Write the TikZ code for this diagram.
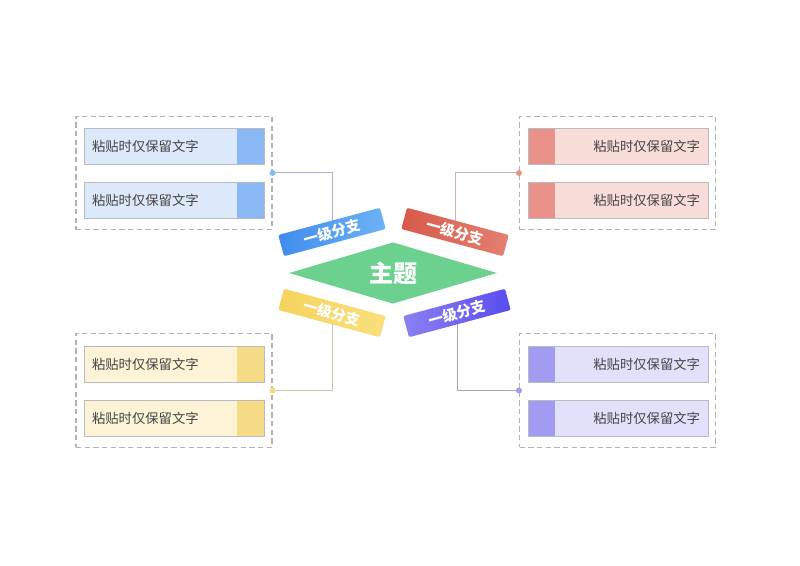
\documentclass[tikz,border=0pt]{standalone}
\usepackage{fontspec}
\setmainfont{Noto Sans CJK SC}
\usetikzlibrary{positioning, calc, backgrounds, shapes.geometric}
\definecolor{topicgreen}{HTML}{6CD08E}
\definecolor{blueL}{HTML}{3F8CEE}
\definecolor{blueR}{HTML}{6DB2F6}
\definecolor{redL}{HTML}{E3806F}
\definecolor{redR}{HTML}{D9594B}
\definecolor{yelL}{HTML}{F6D35E}
\definecolor{yelR}{HTML}{F9DF7C}
\definecolor{purL}{HTML}{8C80F2}
\definecolor{purR}{HTML}{5A4CF0}
\definecolor{bluefill}{HTML}{DCE9FB}
\definecolor{blueacc}{HTML}{8AB8F5}
\definecolor{redfill}{HTML}{F9DDD8}
\definecolor{redacc}{HTML}{E9928A}
\definecolor{yelfill}{HTML}{FDF3D6}
\definecolor{yelacc}{HTML}{F6DB86}
\definecolor{purfill}{HTML}{E3E0FB}
\definecolor{puracc}{HTML}{A39AF1}
\definecolor{itemline}{HTML}{B8BCC2}
\definecolor{itemtext}{HTML}{444444}
\definecolor{lineblue}{HTML}{A9B5C6}
\definecolor{linered}{HTML}{D9ABAA}
\definecolor{lineyel}{HTML}{C9C5AE}
\definecolor{linepur}{HTML}{A7A3CF}
\tikzset{
  topic/.style={diamond, fill=topicgreen, inner sep=0pt, aspect=3.4,
                minimum width=156pt, minimum height=46pt,
                text=white, font=\fontsize{18}{20}\selectfont\bfseries},
  branch/.style n args={3}{rectangle, rounded corners=1.5pt, rotate=#3,
                left color=#1, right color=#2, draw=none,
                minimum width=79pt, minimum height=16.5pt, inner sep=0pt,
                text=white, font=\fontsize{11}{12}\selectfont\bfseries},
  group/.style={rectangle, draw=gray!60, dashed, dash pattern=on 4pt off 2.5pt,
                line width=0.8pt, minimum width=147pt, minimum height=85pt},
  litem/.style n args={2}{rectangle, draw=itemline, fill=#1, line width=0.5pt,
                minimum width=135pt, minimum height=27pt, inner xsep=6pt,
                text width=123pt, align=left, text=itemtext,
                font=\fontsize{10}{12}\selectfont,
                path picture={\fill[#2] (path picture bounding box.north east)
                  rectangle ([xshift=-20.25pt]path picture bounding box.south east);}},
  ritem/.style n args={2}{litem={#1}{#2}, align=right,
                path picture={\fill[#2] (path picture bounding box.north west)
                  rectangle ([xshift=20.25pt]path picture bounding box.south west);}},
  conn/.style={line width=0.75pt, draw=#1},
  knob/.style={circle, fill=#1, inner sep=0pt, minimum size=4.5pt},
}
\begin{document}
\begin{tikzpicture}[x=0.75pt, y=-0.75pt]
  \useasboundingbox (0,0) rectangle (800,566);

  % Centre topic and the four first-level branches
  \node[topic] (topic) at (393,273) {主题};
  \node[branch={blueL}{blueR}{15}]  (bblue) at (332,232) {一级分支};
  \node[branch={redR}{redL}{-15}]   (bred)  at (455,232) {一级分支};
  \node[branch={yelL}{yelR}{-15}]   (byel)  at (332,313) {一级分支};
  \node[branch={purL}{purR}{15}]    (bpur)  at (457,313) {一级分支};

  % Dashed groups — one per branch
  \node[group] (gtl) at (174,173) {};
  \node[group] (gtr) at (617.5,173) {};
  \node[group] (gbl) at (174,390.5) {};
  \node[group] (gbr) at (617.5,390.5) {};

  % Items — left groups have the accent on the right, right groups on the left
  \node[litem={bluefill}{blueacc}] (tl1) at (174,146) {粘贴时仅保留文字};
  \node[litem={bluefill}{blueacc}] (tl2) at (174,200) {粘贴时仅保留文字};
  \node[ritem={redfill}{redacc}]   (tr1) at (618,146) {粘贴时仅保留文字};
  \node[ritem={redfill}{redacc}]   (tr2) at (618,200) {粘贴时仅保留文字};
  \node[litem={yelfill}{yelacc}]   (bl1) at (174,364) {粘贴时仅保留文字};
  \node[litem={yelfill}{yelacc}]   (bl2) at (174,418) {粘贴时仅保留文字};
  \node[ritem={purfill}{puracc}]   (br1) at (618,364) {粘贴时仅保留文字};
  \node[ritem={purfill}{puracc}]   (br2) at (618,418) {粘贴时仅保留文字};

  % Connectors
  \begin{scope}[on background layer]
    \draw[conn=lineblue] (bblue.center) |- (gtl.east);
    \draw[conn=linered]  (bred.center)  |- (gtr.west);
    \draw[conn=lineyel]  (byel.center)  |- (gbl.east);
    \draw[conn=linepur]  (bpur.center)  |- (gbr.west);
  \end{scope}
  \node[knob=blueacc] (ktl) at (gtl.east) {};
  \node[knob=redacc]  (ktr) at (gtr.west) {};
  \node[knob=yelacc]  (kbl) at (gbl.east) {};
  \node[knob=puracc]  (kbr) at (gbr.west) {};
\end{tikzpicture}
\end{document}
